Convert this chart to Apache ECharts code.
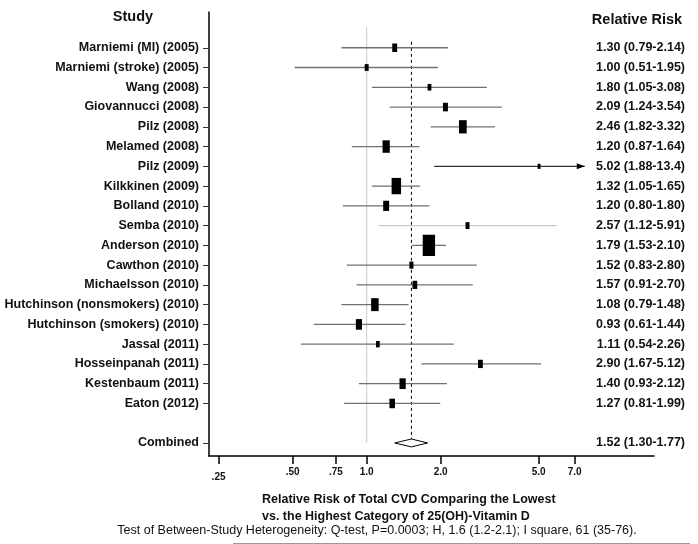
<!DOCTYPE html>
<html><head><meta charset="utf-8">
<script src="https://cdn.jsdelivr.net/npm/echarts@6/dist/echarts.min.js"></script>
<style>html,body{margin:0;padding:0;background:#fff}#c{width:698px;height:544px}</style>
</head><body><div id="c"></div>
<script>
// ---------------- data ----------------
const studies = [
  'Marniemi (MI) (2005)', 'Marniemi (stroke) (2005)', 'Wang (2008)', 'Giovannucci (2008)',
  'Pilz (2008)', 'Melamed (2008)', 'Pilz (2009)', 'Kilkkinen (2009)', 'Bolland (2010)',
  'Semba (2010)', 'Anderson (2010)', 'Cawthon (2010)', 'Michaelsson (2010)',
  'Hutchinson (nonsmokers) (2010)', 'Hutchinson (smokers) (2010)', 'Jassal (2011)',
  'Hosseinpanah (2011)', 'Kestenbaum (2011)', 'Eaton (2012)'
];
const rr    = [1.30, 1.00, 1.80, 2.09, 2.46, 1.20, 5.02, 1.32, 1.20, 2.57, 1.79, 1.52, 1.57, 1.08, 0.93, 1.11, 2.90, 1.40, 1.27];
const lower = [0.79, 0.51, 1.05, 1.24, 1.82, 0.87, 1.88, 1.05, 0.80, 1.12, 1.53, 0.83, 0.91, 0.79, 0.61, 0.54, 1.67, 0.93, 0.81];
const upper = [2.14, 1.95, 3.08, 3.54, 3.32, 1.64, 13.4, 1.65, 1.80, 5.91, 2.10, 2.80, 2.70, 1.48, 1.44, 2.26, 5.12, 2.12, 1.99];
const weights = [42, 27, 25, 43, 102, 90, 15, 155, 60, 27, 262, 29, 39, 97, 65, 24, 40, 67, 53];
const combinedLabel = 'Combined';
const combinedRR = 1.52, combinedLower = 1.30, combinedUpper = 1.77;
const xTicks = [0.25, 0.5, 0.75, 1, 2, 5, 7];

// ---------------- rendering config ----------------
const FONT = '"Liberation Sans", Arial, Helvetica, sans-serif';
const arrowCap = 7.7;           // CI drawn truncated with an arrow beyond this value
const lightRows = ['Semba (2010)'];
const combinedRow = studies.length + 2;

function fmt(v) { return v >= 10 ? v.toFixed(1) : v.toFixed(2); }
function rowLabel(v) {
  if (v === combinedRow) return combinedLabel;
  return studies[v - 1] || '';
}
function rowValue(v) {
  if (v === combinedRow) return fmt(combinedRR) + ' (' + fmt(combinedLower) + '-' + fmt(combinedUpper) + ')';
  const i = v - 1;
  if (i < 0 || i >= studies.length) return '';
  return fmt(rr[i]) + ' (' + fmt(lower[i]) + '-' + fmt(upper[i]) + ')';
}
const rowTicks = studies.map((s, i) => i + 1).concat([combinedRow]);

const studyData = studies.map((s, i) => [rr[i], lower[i], upper[i], i + 1, weights[i], lightRows.indexOf(s) >= 0 ? 1 : 0]);

const chart = echarts.init(document.getElementById('c'));
const yBase = {
  type: 'value', inverse: true, min: -0.81, max: 21.66,
  splitLine: { show: false }
};
const tickLabelStyle = { color: '#111', fontWeight: 'bold', fontSize: 10, fontFamily: FONT };
chart.setOption({
  animation: false,
  backgroundColor: '#fff',
  grid: { left: 209, right: 44, top: 12, bottom: 88 },
  xAxis: {
    type: 'log', logBase: 10, min: 0.2286, max: 14.72, position: 'bottom',
    axisLine: { show: true, onZero: false, lineStyle: { color: '#000', width: 1.5 } },
    axisTick: { show: true, length: 8, lineStyle: { color: '#000', width: 1.5 }, customValues: xTicks },
    axisLabel: Object.assign({
      customValues: xTicks, margin: 11,
      formatter: v => {
        const s = v < 1 ? v.toFixed(2).replace(/^0/, '') : v.toFixed(1);
        return v === xTicks[0] ? '{low|' + s + '}' : s;
      },
      rich: { low: Object.assign({ padding: [5, 0, 0, 0] }, tickLabelStyle) }
    }, tickLabelStyle),
    splitLine: { show: false }, minorTick: { show: false }
  },
  yAxis: [
    Object.assign({}, yBase, {
      position: 'left',
      axisLine: { show: true, onZero: false, lineStyle: { color: '#000', width: 1.5 } },
      axisTick: { show: true, length: 6, lineStyle: { color: '#333', width: 1 }, customValues: rowTicks },
      axisLabel: { customValues: rowTicks, formatter: rowLabel, margin: 10, color: '#111', fontWeight: 'bold', fontSize: 12.5, fontFamily: FONT }
    }),
    Object.assign({}, yBase, {
      position: 'right',
      axisLine: { show: false, onZero: false }, axisTick: { show: false },
      axisLabel: { customValues: rowTicks, formatter: rowValue, margin: 31, align: 'right', color: '#111', fontWeight: 'bold', fontSize: 12.5, fontFamily: FONT }
    })
  ],
  series: [
    { // reference lines: null effect at 1.0 and pooled estimate
      type: 'custom', silent: true, z: 1,
      data: [[1, -0.05, combinedRow, 0], [combinedRR, 0.7, combinedRow - 0.2, 1]],
      encode: { x: 0, y: [1, 2] },
      renderItem(params, api) {
        const a = api.coord([api.value(0), api.value(1)]);
        const b = api.coord([api.value(0), api.value(2)]);
        const dashed = api.value(3) === 1;
        return {
          type: 'line', shape: { x1: a[0], y1: a[1], x2: b[0], y2: b[1] },
          style: dashed ? { stroke: '#000', lineWidth: 1, lineDash: [3, 3] } : { stroke: '#c8c8c8', lineWidth: 1 }
        };
      }
    },
    { // study CIs and weight boxes
      type: 'custom', silent: true, z: 3,
      data: studyData,
      encode: { x: [0, 1, 2], y: 3 },
      renderItem(params, api) {
        const v = api.value(0), lo = api.value(1), hi = api.value(2), row = api.value(3), w = api.value(4), light = api.value(5) === 1;
        const capped = hi > arrowCap;
        const c = api.coord([v, row]);
        const l = api.coord([lo, row]);
        const h = api.coord([capped ? arrowCap : hi, row]);
        const bh = Math.sqrt(w / 0.58), bw = bh * 0.58;
        const children = [{
          type: 'line', shape: { x1: l[0], y1: l[1], x2: h[0], y2: h[1] },
          style: { stroke: capped ? '#000' : (light ? '#c8c8c8' : '#707070'), lineWidth: capped ? 1 : 1.3 }
        }];
        if (capped) {
          children.push({ type: 'polygon', shape: { points: [[h[0], h[1]], [h[0] - 8, h[1] - 3], [h[0] - 8, h[1] + 3]] }, style: { fill: '#000' } });
        }
        children.push({ type: 'rect', shape: { x: c[0] - bw / 2, y: c[1] - bh / 2, width: bw, height: bh }, style: { fill: '#000' } });
        return { type: 'group', children };
      }
    },
    { // pooled diamond
      type: 'custom', silent: true, z: 4,
      data: [[combinedRR, combinedLower, combinedUpper, combinedRow]],
      encode: { x: [0, 1, 2], y: 3 },
      renderItem(params, api) {
        const row = api.value(3);
        const p = [
          api.coord([api.value(1), row]), api.coord([api.value(0), row - 0.2]),
          api.coord([api.value(2), row]), api.coord([api.value(0), row + 0.2])
        ];
        return { type: 'polygon', shape: { points: p }, style: { fill: '#fff', stroke: '#000', lineWidth: 1 } };
      }
    }
  ],
  graphic: [
    { type: 'text', x: 133, y: 17, style: { text: 'Study', font: 'bold 14.5px ' + FONT, fill: '#111', align: 'center', verticalAlign: 'middle' } },
    { type: 'text', x: 637, y: 20, style: { text: 'Relative Risk', font: 'bold 14.5px ' + FONT, fill: '#111', align: 'center', verticalAlign: 'middle' } },
    { type: 'text', x: 262, y: 491, style: { text: 'Relative Risk of Total CVD Comparing the Lowest\nvs. the Highest Category of 25(OH)-Vitamin D', font: 'bold 12.5px ' + FONT, lineHeight: 17, fill: '#111', align: 'left', verticalAlign: 'top' } },
    { type: 'text', x: 377, y: 531, style: { text: 'Test of Between-Study Heterogeneity: Q-test, P=0.0003; H, 1.6 (1.2-2.1); I square, 61 (35-76).', font: '12.5px ' + FONT, fill: '#111', align: 'center', verticalAlign: 'middle' } },
    { type: 'line', shape: { x1: 233, y1: 543.5, x2: 690, y2: 543.5 }, style: { stroke: '#999', lineWidth: 1 } }
  ]
});
</script></body></html>
